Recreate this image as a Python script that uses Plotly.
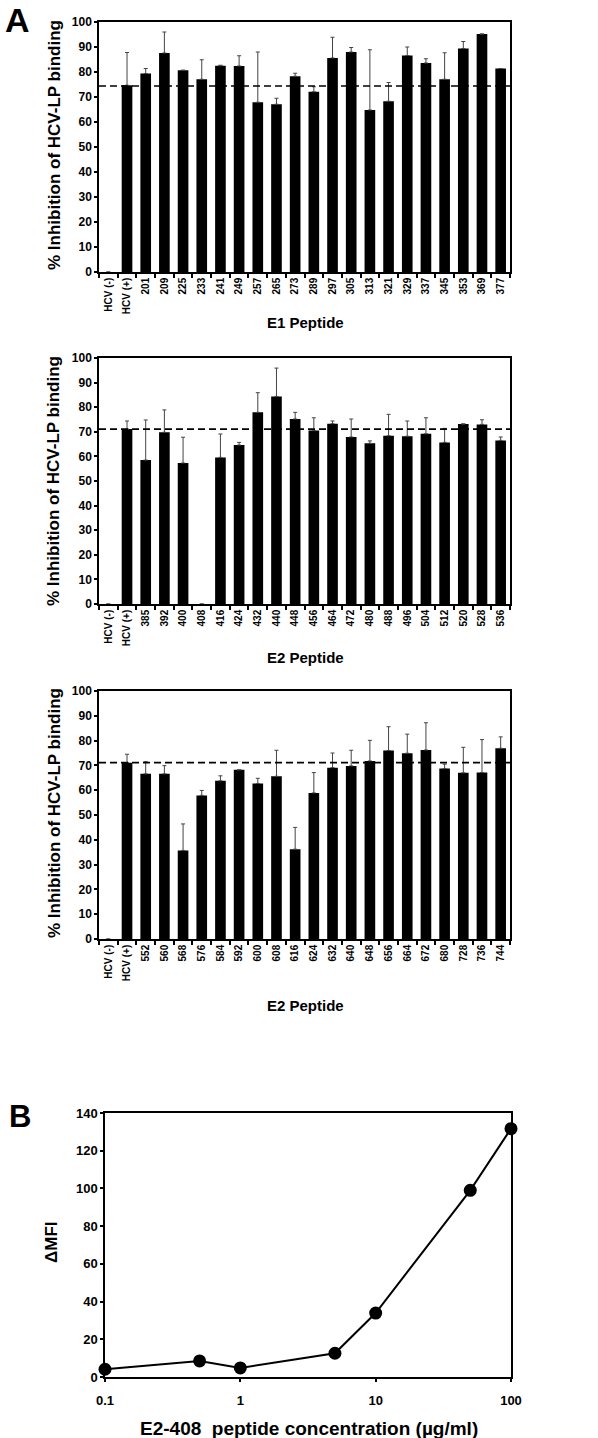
import plotly.graph_objects as go

# ---------------- data ----------------
e1_labels = ["HCV (-)", "HCV (+)", "201", "209", "225", "233", "241", "249", "257", "265", "273",
             "289", "297", "305", "313", "321", "329", "337", "345", "353", "369", "377"]
e1_values = [0, 74.7, 79.4, 87.6, 80.7, 77.1, 82.5, 82.4, 67.9, 67.1, 78.3,
             72.1, 85.6, 88.0, 64.8, 68.3, 86.6, 83.6, 77.1, 89.4, 95.2, 81.4]
e1_errors = [0, 13.1, 2.0, 8.4, 0, 7.8, 0.2, 4.1, 20.1, 2.4, 1.2,
             2.0, 8.3, 1.8, 24.1, 7.5, 3.4, 1.7, 10.6, 2.8, 0, 0]

e2a_labels = ["HCV (-)", "HCV (+)", "385", "392", "400", "408", "416", "424", "432", "440", "448",
              "456", "464", "472", "480", "488", "496", "504", "512", "520", "528", "536"]
e2a_values = [0, 71.1, 58.5, 69.8, 57.3, 0, 59.6, 64.6, 77.9, 84.4, 75.2,
              70.5, 73.3, 67.9, 65.3, 68.4, 68.2, 69.2, 65.7, 73.2, 73.0, 66.5]
e2a_errors = [0, 3.3, 16.3, 9.1, 10.5, 0, 9.5, 1.1, 8.0, 11.5, 2.7,
              5.2, 1.1, 7.3, 1.0, 8.7, 6.2, 6.5, 5.7, 0, 1.9, 1.4]

e2b_labels = ["HCV (-)", "HCV (+)", "552", "560", "568", "576", "584", "592", "600", "608", "616",
              "624", "632", "640", "648", "656", "664", "672", "680", "728", "736", "744"]
e2b_values = [0, 71.1, 66.6, 66.6, 35.7, 57.9, 63.8, 68.2, 62.7, 65.6, 36.2,
              58.9, 69.1, 69.8, 71.8, 76.0, 74.9, 76.2, 68.7, 67.0, 67.1, 76.9]
e2b_errors = [0, 3.4, 4.9, 3.3, 10.7, 2.0, 2.0, 0, 2.1, 10.5, 8.8,
              8.2, 5.9, 6.3, 8.3, 9.6, 7.7, 11.0, 1.8, 10.3, 13.3, 4.6]

reference_lines = [74.4, 71.1, 71.1]
panel_titles = ["E1 Peptide", "E2 Peptide", "E2 Peptide"]

conc = [0.1, 0.5, 1, 5, 10, 50, 100]
dmfi = [4.1, 8.5, 4.8, 12.6, 33.9, 99.0, 131.7]

# ---------------- figure ----------------
W, H = 598, 1438
FONT = "Liberation Sans, Arial, sans-serif"

def px(x):
    return x / W

def py(y):
    return 1 - y / H

fig = go.Figure()

def label(x, y, text, size, angle=0):
    fig.add_annotation(xref="paper", yref="paper", x=px(x), y=py(y), text=text,
                       showarrow=False, textangle=angle, xanchor="center", yanchor="middle",
                       font=dict(family=FONT, size=size, color="black", weight="bold"))

panels = [
    (e1_labels, e1_values, e1_errors, (22, 272)),
    (e2a_labels, e2a_values, e2a_errors, (358, 604)),
    (e2b_labels, e2b_values, e2b_errors, (691, 939)),
]
title_y = [322, 657, 1005]
ytitle_y = [145, 481, 813]

for i, (labs, vals, errs, (top, bot)) in enumerate(panels):
    n = i + 1
    xa = "x" if n == 1 else f"x{n}"
    ya = "y" if n == 1 else f"y{n}"
    fig.add_trace(go.Bar(
        x=labs, y=vals, xaxis=xa, yaxis=ya,
        marker=dict(color="black", line=dict(width=0)),
        error_y=dict(type="data", symmetric=False, array=errs,
                     arrayminus=[0] * len(errs), color="#444444",
                     thickness=1, width=2),
        showlegend=False,
    ))
    fig.add_shape(type="line", xref=f"{xa} domain", yref=ya,
                  x0=0, x1=1, y0=reference_lines[i], y1=reference_lines[i],
                  line=dict(color="black", width=1.6, dash="7px,4px"))
    fig.layout[f"xaxis{'' if n == 1 else n}"] = dict(
        domain=[px(99), px(510)], anchor=ya, type="category", automargin=False,
        showline=True, linecolor="black", linewidth=1.5, mirror=True,
        ticks="outside", ticklen=4, tickwidth=1.5, tickcolor="black",
        tickson="boundaries", tickangle=-90,
        tickfont=dict(family=FONT, size=10, color="black", weight="bold"),
        showgrid=False, zeroline=False,
    )
    fig.layout[f"yaxis{'' if n == 1 else n}"] = dict(
        domain=[py(bot), py(top)], anchor=xa, range=[0, 100], dtick=10, automargin=False,
        showline=True, linecolor="black", linewidth=1.5, mirror=True,
        ticks="outside", ticklen=3, tickwidth=1.5, tickcolor="black",
        tickfont=dict(family=FONT, size=12, color="black", weight="bold"),
        showgrid=False, zeroline=False,
    )
    label(305, title_y[i], panel_titles[i], 15)
    label(54, ytitle_y[i], "% Inhibition of HCV-LP binding", 17, -90)

# Panel B
fig.add_trace(go.Scatter(
    x=conc, y=dmfi, xaxis="x4", yaxis="y4", mode="lines+markers",
    line=dict(color="black", width=2),
    marker=dict(color="black", size=13, symbol="circle"),
    cliponaxis=False, showlegend=False,
))
fig.layout["xaxis4"] = dict(
    domain=[px(105), px(511)], anchor="y4", type="log", range=[-1, 2], automargin=False,
    tickvals=[0.1, 1, 10, 100], ticktext=["0.1", "1", "10", "100"],
    showline=True, linecolor="black", linewidth=1.5, mirror=True,
    ticks="outside", ticklen=3, tickwidth=1.5, tickcolor="black",
    ticklabelstandoff=8,
    tickfont=dict(family=FONT, size=13, color="black", weight="bold"),
    showgrid=False, zeroline=False,
)
fig.layout["yaxis4"] = dict(
    domain=[py(1377), py(1113)], anchor="x4", range=[0, 140], dtick=20, automargin=False,
    showline=True, linecolor="black", linewidth=1.5, mirror=True,
    ticks="outside", ticklen=3, tickwidth=1.5, tickcolor="black",
    tickfont=dict(family=FONT, size=13, color="black", weight="bold"),
    showgrid=False, zeroline=False,
)
label(51, 1242, "ΔMFI", 17, -90)
label(309, 1428, "E2-408  peptide concentration (µg/ml)", 19)

# Panel letters
label(17, 20, "A", 34)
label(20, 1116, "B", 31)

fig.update_layout(
    width=W, height=H, margin=dict(l=0, r=0, t=0, b=0),
    paper_bgcolor="white", plot_bgcolor="white",
    bargap=0.43, showlegend=False,
    font=dict(family=FONT, color="black"),
)

fig.write_html("out.html", config={"displayModeBar": False},
               post_script="document.body.style.margin='0px';")
